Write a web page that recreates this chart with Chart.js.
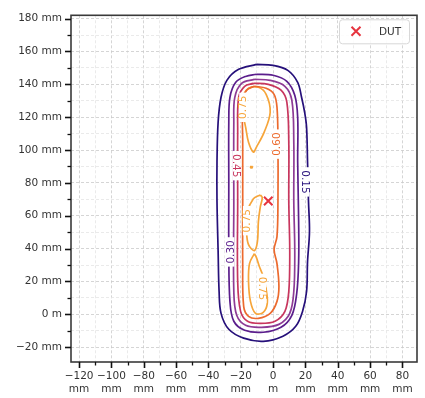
<!DOCTYPE html>
<html><head><meta charset="utf-8">
<script src="https://cdn.jsdelivr.net/npm/chart.js@4/dist/chart.umd.min.js"></script>
<style>html,body{margin:0;padding:0;background:#fff;}canvas{display:block;}</style>
</head><body>
<canvas id="c" width="425" height="398"></canvas>
<script>
// ---- tick values / labels ----
const xMajor = [-120,-100,-80,-60,-40,-20,0,20,40,60,80];
const xMajorLabels = [['−120','mm'],['−100','mm'],['−80','mm'],['−60','mm'],['−40','mm'],['−20','mm'],['0','m'],['20','mm'],['40','mm'],['60','mm'],['80','mm']];
const xMinor = [-110,-90,-70,-50,-30,-10,10,30,50,70];
const yMajor = [-20,0,20,40,60,80,100,120,140,160,180];
const yMajorLabels = ['−20 mm','0 m','20 mm','40 mm','60 mm','80 mm','100 mm','120 mm','140 mm','160 mm','180 mm'];
const yMinor = [-10,10,30,50,70,90,110,130,150,170];

// ---- contour polylines (mm) ----
const contour1 = [[-10.3,152.1],[0,151.5],[9.1,148.5],[15.2,141.2],[17.6,132.1],[19.5,123],[20.7,113.9],[21.3,92.7],[21.9,68.5],[22.5,50.3],[21.3,32.1],[20.7,13.9],[18.2,1.8],[14,-7.3],[6.1,-13.3],[-6.1,-16.4],[-18.2,-14.5],[-27.4,-9.1],[-32.2,0.6],[-33.4,13.9],[-34,38.2],[-34.7,68.5],[-34.7,92.7],[-34,117],[-32.2,132.1],[-28.6,142.4],[-21.3,149.1],[-10.3,152.1]];
const contour2 = [[-10.3,146.1],[0,145.5],[8.5,141.8],[13.4,133.3],[15.2,120],[15.2,92.7],[15.8,56.4],[15.8,32.1],[14.6,12.7],[11.6,-0.6],[4.9,-7.9],[-6.1,-10.9],[-17.6,-9.7],[-24.3,-4.2],[-26.7,7.9],[-27.4,38.2],[-27.4,80.6],[-27.4,117],[-26.7,132.1],[-23.1,141.2],[-17,144.8],[-10.3,146.1]];
const contour3 = [[-11.6,143],[-1.8,142.4],[7.3,138.8],[11.6,130.3],[12.8,104.8],[12.8,68.5],[13.4,38.2],[12.8,13.9],[10.3,0.6],[3.6,-6.1],[-7.3,-7.9],[-17,-6.7],[-22.5,-0.6],[-24.3,13.9],[-24.3,68.5],[-24.3,117],[-23.7,132.1],[-19.5,140.6],[-11.6,143]];
const contour4 = [[-12.2,140.6],[-3,140],[4.9,136.4],[8.5,129.1],[9.7,104.8],[9.7,68.5],[10.3,38.2],[9.7,13.9],[7.3,1.8],[1.2,-4.2],[-7.9,-5.5],[-15.8,-4.2],[-20.1,1.8],[-21.9,20],[-21.9,68.5],[-21.9,110.9],[-21.3,132.1],[-17.6,138.8],[-12.2,140.6]];
const contour5 = [[-11.6,138.8],[-4.3,137.6],[0.6,133.9],[2.4,126.1],[3,104.8],[3,68.5],[2.4,47.3],[0.6,39.4],[2.4,30.9],[3.6,17],[2.4,7.9],[-1.8,0.6],[-9.1,-2.4],[-15.2,-1.2],[-18.2,4.8],[-18.8,32.1],[-18.8,68.5],[-18.8,104.8],[-18.8,129.1],[-16.4,136.4],[-11.6,138.8]];
const contour6a = [[-19.5,132.1],[-15.2,137.6],[-9.1,138.2],[-4.3,133.9],[-1.8,123],[-5.5,110.9],[-10.3,101.8],[-12.2,98.8],[-15.2,104.8],[-17,113.9],[-18.8,123],[-19.5,132.1]];
const contour6b = [[-7.9,72.7],[-12.2,70.3],[-15.8,62.4],[-16.4,50.3],[-15.2,42.4],[-11.6,38.8],[-9.7,44.2],[-9.1,56.4],[-7.9,65.5],[-6.7,70.9],[-7.9,72.7]];
const contour6c = [[-11.6,37],[-14.6,30.9],[-15.2,20],[-14,7.9],[-10.9,0.6],[-6.1,1.2],[-3.6,6.7],[-4.3,15.2],[-6.1,23],[-8.5,29.1],[-10.3,34.5],[-11.6,37]];
const contour6d = [[-13.4,90.3],[-12.8,89.7],[-13.4,89.1],[-14,89.7],[-13.4,90.3]];

// ---- contour labels ----
const labelText = ['0.15','0.30','0.45','0.60','0.75','0.75','0.75'];
const labelX = [19.8,-26.4,-22.5,2.0,-18.5,-16.2,-6.6];
const labelY = [80.6,38,90.5,103.6,126,57,15.8];
const labelRot = [90,-90,90,-90,-90,-90,90];
const labelLine = [0,1,3,4,5,5,5];

// ---- DUT marker ----
const dutX = [-3];
const dutY = [69];

const lineColors = ['#26107a','#5b1e8c','#8e3b95','#c8365e','#ec6a2e','#f6a53a'];
const FONT = '"DejaVu Sans", sans-serif';

const toPts = a => a.map(p => ({x:p[0], y:p[1]}));
const mk = (arr, ci) => ({type:'scatter', data:toPts(arr), showLine:true, pointRadius:0, borderColor:lineColors[ci], borderWidth:1.7, tension:0.35, fill:false});

const datasets = [
  mk(contour1,0), mk(contour2,1), mk(contour3,2), mk(contour4,3), mk(contour5,4),
  mk(contour6a,5), mk(contour6b,5), mk(contour6c,5), mk(contour6d,5),
  {type:'scatter', label:'DUT', data:dutX.map((x,i)=>({x, y:dutY[i]})), pointStyle:'crossRot', pointRadius:6, borderColor:'#e6343f', backgroundColor:'#e6343f', borderWidth:2, showLine:false}
];

const labelPlugin = {
  id:'clabels',
  afterDatasetsDraw(chart){
    const {ctx, scales:{x, y}} = chart;
    ctx.save();
    ctx.font = '10.5px ' + FONT;
    labelText.forEach((t,i)=>{
      const px = x.getPixelForValue(labelX[i]), py = y.getPixelForValue(labelY[i]);
      ctx.save();
      ctx.translate(px, py);
      ctx.rotate(labelRot[i]*Math.PI/180);
      const w = ctx.measureText(t).width;
      ctx.fillStyle = '#fff';
      ctx.fillRect(-w/2-3, -4, w+6, 8);
      ctx.fillStyle = lineColors[labelLine[i]];
      ctx.textAlign = 'center'; ctx.textBaseline = 'middle';
      ctx.fillText(t, 0, 0.5);
      ctx.restore();
    });
    ctx.restore();
  }
};

const framePlugin = {
  id:'frame',
  afterDraw(chart){
    const {ctx, chartArea:ca, scales:{x, y}} = chart;
    ctx.save();
    ctx.strokeStyle = '#3a3a3a'; ctx.lineWidth = 1.6;
    ctx.strokeRect(ca.left, ca.top, ca.right-ca.left, ca.bottom-ca.top);
    ctx.strokeStyle = '#111';
    const tk = (vals, len, w, axis) => {
      ctx.lineWidth = w;
      vals.forEach(v=>{
        ctx.beginPath();
        if (axis==='x'){ const p = Math.round(x.getPixelForValue(v))+0.5; ctx.moveTo(p, ca.bottom); ctx.lineTo(p, ca.bottom+len); }
        else { const p = Math.round(y.getPixelForValue(v))+0.5; ctx.moveTo(ca.left, p); ctx.lineTo(ca.left-len, p); }
        ctx.stroke();
      });
    };
    tk(xMajor, 6, 1.6, 'x'); tk(xMinor, 3.5, 1.3, 'x');
    tk(yMajor, 6, 1.6, 'y'); tk(yMinor, 3.5, 1.3, 'y');
    // legend
    const dut = chart.data.datasets[chart.data.datasets.length-1];
    const bx = ca.right-78, by = ca.top+4, bw = 70, bh = 24;
    ctx.fillStyle = 'rgba(255,255,255,0.85)'; ctx.strokeStyle = '#d8d8d8'; ctx.lineWidth = 1;
    ctx.beginPath();
    if (ctx.roundRect) ctx.roundRect(bx+0.5, by+0.5, bw, bh, 3); else ctx.rect(bx+0.5, by+0.5, bw, bh);
    ctx.fill(); ctx.stroke();
    const mx = bx+17, my = by+12, r = 4.5;
    ctx.strokeStyle = dut.borderColor; ctx.lineWidth = 2;
    ctx.beginPath(); ctx.moveTo(mx-r,my-r); ctx.lineTo(mx+r,my+r); ctx.moveTo(mx+r,my-r); ctx.lineTo(mx-r,my+r); ctx.stroke();
    ctx.fillStyle = '#333'; ctx.font = '10.5px ' + FONT; ctx.textAlign='left'; ctx.textBaseline='middle';
    ctx.fillText(dut.label, bx+40, my+0.5);
    ctx.restore();
  }
};

const gridColor = (majors) => (c) => (c.tick && majors.includes(c.tick.value)) ? '#cacaca' : '#e4e4e4';

new Chart(document.getElementById('c'), {
  type:'scatter',
  data:{datasets},
  options:{
    responsive:false, animation:false, devicePixelRatio:1,
    layout:{padding:{top:14, right:3, left:0, bottom:0}},
    plugins:{legend:{display:false}, tooltip:{enabled:false}},
    scales:{
      x:{
        type:'linear', min:-125, max:89,
        afterBuildTicks: s => { s.ticks = [...xMajor, ...xMinor].sort((a,b)=>a-b).map(v=>({value:v})); },
        afterFit: s => { s.height = 36; },
        ticks:{autoSkip:false, maxRotation:0, padding:8, color:'#333', font:{family:FONT, size:10.5, lineHeight:1.2},
          callback: v => { const i = xMajor.indexOf(v); return i<0 ? '' : xMajorLabels[i]; }},
        grid:{color:gridColor(xMajor), lineWidth:0.8, drawTicks:false},
        border:{display:false, dash:[3,2]}
      },
      y:{
        type:'linear', min:-29, max:182,
        afterBuildTicks: s => { s.ticks = [...yMajor, ...yMinor].sort((a,b)=>a-b).map(v=>({value:v})); },
        afterFit: s => { s.width = 71; },
        ticks:{autoSkip:false, padding:9, color:'#333', font:{family:FONT, size:10.5},
          callback: v => { const i = yMajor.indexOf(v); return i<0 ? '' : yMajorLabels[i]; }},
        grid:{color:gridColor(yMajor), lineWidth:0.8, drawTicks:false},
        border:{display:false, dash:[3,2]}
      }
    }
  },
  plugins:[labelPlugin, framePlugin]
});
</script>
</body></html>
